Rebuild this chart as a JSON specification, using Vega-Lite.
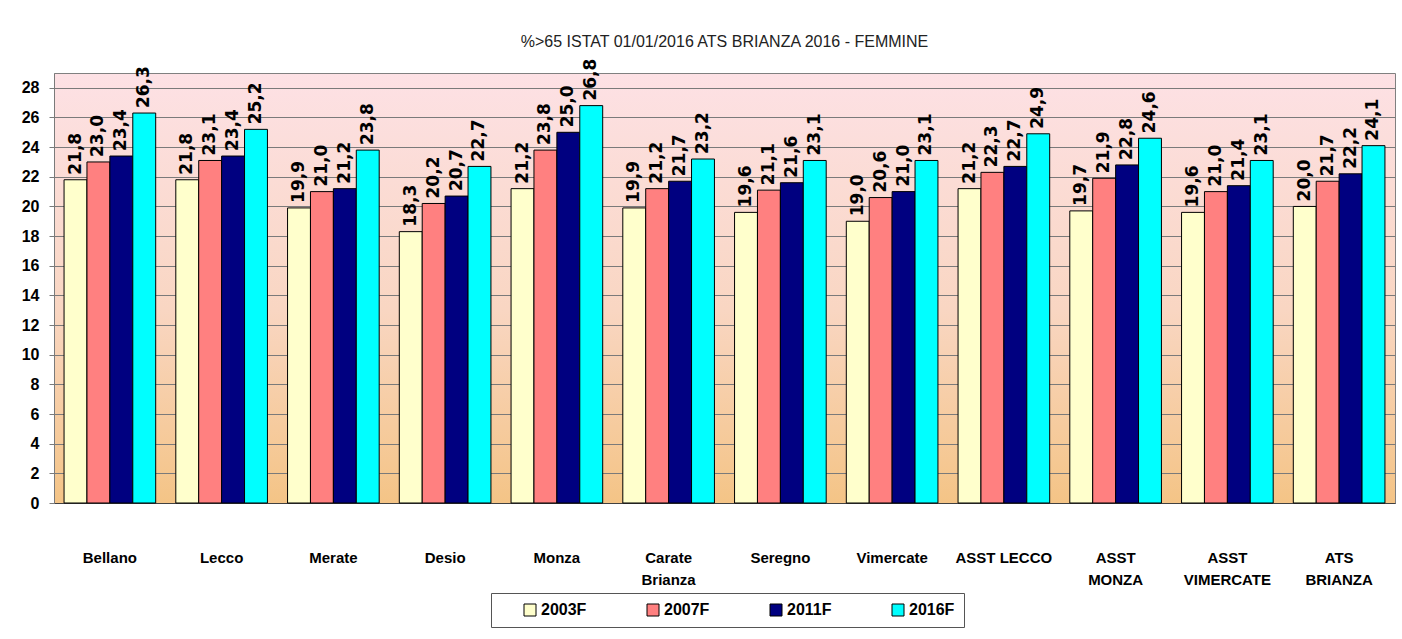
{
  "$schema": "https://vega.github.io/schema/vega-lite/v6.json",
  "width": 1341,
  "height": 430,
  "autosize": {"type": "none"},
  "padding": {"left": 54, "top": 73, "right": 7, "bottom": 136},
  "background": "white",
  "config": {
    "locale": {"number": {"decimal": ",", "thousands": ".", "grouping": [3], "currency": ["", " €"]}},
    "font": "Liberation Sans",
    "view": {
      "stroke": "#808080",
      "strokeWidth": 1,
      "fill": {
        "gradient": "linear",
        "x1": 0, "y1": 1, "x2": 0, "y2": 0,
        "stops": [
          {"offset": 0, "color": "#f4c486"},
          {"offset": 0.45, "color": "#f9d6c2"},
          {"offset": 1, "color": "#fde1e5"}
        ]
      }
    }
  },
  "title": {
    "text": "%>65 ISTAT 01/01/2016 ATS BRIANZA 2016 - FEMMINE",
    "font": "Liberation Sans",
    "fontSize": 16,
    "fontWeight": "normal",
    "color": "#222222",
    "anchor": "middle",
    "frame": "group",
    "offset": 9
  },
  "data": {
    "values": [
      {"zona": "Bellano", "anno": "2003F", "val": 21.8},
      {"zona": "Bellano", "anno": "2007F", "val": 23.0},
      {"zona": "Bellano", "anno": "2011F", "val": 23.4},
      {"zona": "Bellano", "anno": "2016F", "val": 26.3},
      {"zona": "Lecco", "anno": "2003F", "val": 21.8},
      {"zona": "Lecco", "anno": "2007F", "val": 23.1},
      {"zona": "Lecco", "anno": "2011F", "val": 23.4},
      {"zona": "Lecco", "anno": "2016F", "val": 25.2},
      {"zona": "Merate", "anno": "2003F", "val": 19.9},
      {"zona": "Merate", "anno": "2007F", "val": 21.0},
      {"zona": "Merate", "anno": "2011F", "val": 21.2},
      {"zona": "Merate", "anno": "2016F", "val": 23.8},
      {"zona": "Desio", "anno": "2003F", "val": 18.3},
      {"zona": "Desio", "anno": "2007F", "val": 20.2},
      {"zona": "Desio", "anno": "2011F", "val": 20.7},
      {"zona": "Desio", "anno": "2016F", "val": 22.7},
      {"zona": "Monza", "anno": "2003F", "val": 21.2},
      {"zona": "Monza", "anno": "2007F", "val": 23.8},
      {"zona": "Monza", "anno": "2011F", "val": 25.0},
      {"zona": "Monza", "anno": "2016F", "val": 26.8},
      {"zona": "Carate Brianza", "anno": "2003F", "val": 19.9},
      {"zona": "Carate Brianza", "anno": "2007F", "val": 21.2},
      {"zona": "Carate Brianza", "anno": "2011F", "val": 21.7},
      {"zona": "Carate Brianza", "anno": "2016F", "val": 23.2},
      {"zona": "Seregno", "anno": "2003F", "val": 19.6},
      {"zona": "Seregno", "anno": "2007F", "val": 21.1},
      {"zona": "Seregno", "anno": "2011F", "val": 21.6},
      {"zona": "Seregno", "anno": "2016F", "val": 23.1},
      {"zona": "Vimercate", "anno": "2003F", "val": 19.0},
      {"zona": "Vimercate", "anno": "2007F", "val": 20.6},
      {"zona": "Vimercate", "anno": "2011F", "val": 21.0},
      {"zona": "Vimercate", "anno": "2016F", "val": 23.1},
      {"zona": "ASST LECCO", "anno": "2003F", "val": 21.2},
      {"zona": "ASST LECCO", "anno": "2007F", "val": 22.3},
      {"zona": "ASST LECCO", "anno": "2011F", "val": 22.7},
      {"zona": "ASST LECCO", "anno": "2016F", "val": 24.9},
      {"zona": "ASST MONZA", "anno": "2003F", "val": 19.7},
      {"zona": "ASST MONZA", "anno": "2007F", "val": 21.9},
      {"zona": "ASST MONZA", "anno": "2011F", "val": 22.8},
      {"zona": "ASST MONZA", "anno": "2016F", "val": 24.6},
      {"zona": "ASST VIMERCATE", "anno": "2003F", "val": 19.6},
      {"zona": "ASST VIMERCATE", "anno": "2007F", "val": 21.0},
      {"zona": "ASST VIMERCATE", "anno": "2011F", "val": 21.4},
      {"zona": "ASST VIMERCATE", "anno": "2016F", "val": 23.1},
      {"zona": "ATS BRIANZA", "anno": "2003F", "val": 20.0},
      {"zona": "ATS BRIANZA", "anno": "2007F", "val": 21.7},
      {"zona": "ATS BRIANZA", "anno": "2011F", "val": 22.2},
      {"zona": "ATS BRIANZA", "anno": "2016F", "val": 24.1}
    ]
  },
  "encoding": {
    "x": {
      "field": "zona",
      "type": "nominal",
      "sort": null,
      "scale": {"paddingInner": 0.18, "paddingOuter": 0.09},
      "axis": {
        "title": null,
        "labelAngle": 0,
        "ticks": false,
        "labelPadding": 47,
        "labelBaseline": "top",
        "labelFont": "Liberation Sans",
        "labelFontSize": 15,
        "labelFontWeight": "bold",
        "labelColor": "black",
        "labelLineHeight": 22,
        "domainColor": "#404040",
        "labelExpr": "datum.label == 'ASST LECCO' ? datum.label : split(datum.label, ' ')"
      }
    },
    "xOffset": {
      "field": "anno",
      "type": "nominal",
      "sort": null,
      "scale": {"paddingInner": 0, "paddingOuter": 0}
    },
    "y": {
      "field": "val",
      "type": "quantitative",
      "scale": {"domain": [0, 29], "nice": false},
      "axis": {
        "title": null,
        "values": [0, 2, 4, 6, 8, 10, 12, 14, 16, 18, 20, 22, 24, 26, 28],
        "format": "d",
        "grid": true,
        "gridColor": "#7a7a7a",
        "gridWidth": 1,
        "tickColor": "#7a7a7a",
        "tickSize": 5,
        "labelPadding": 10,
        "labelFont": "Liberation Sans",
        "labelFontSize": 16,
        "labelFontWeight": "bold",
        "labelColor": "black",
        "domainColor": "#7a7a7a"
      }
    }
  },
  "layer": [
    {
      "mark": {"type": "bar", "stroke": "black", "strokeWidth": 1},
      "encoding": {
        "color": {
          "field": "anno",
          "type": "nominal",
          "scale": {
            "domain": ["2003F", "2007F", "2011F", "2016F"],
            "range": ["#ffffcc", "#ff8080", "#000080", "#00ffff"]
          },
          "legend": {
            "title": "\u00a0",
            "titleOrient": "left",
            "titlePadding": 22,
            "orient": "none",
            "legendX": 437,
            "legendY": 520,
            "direction": "horizontal",
            "columns": 4,
            "padding": 9,
            "columnPadding": 58,
            "symbolType": "square",
            "symbolSize": 144,
            "symbolStrokeColor": "black",
            "symbolStrokeWidth": 1,
            "labelOffset": 3,
            "labelFont": "Liberation Sans",
            "labelFontSize": 16,
            "labelFontWeight": "bold",
            "labelColor": "black",
            "strokeColor": "#555555",
            "fillColor": "white"
          }
        }
      }
    },
    {
      "mark": {
        "type": "text",
        "angle": 270,
        "align": "left",
        "baseline": "middle",
        "dx": 5,
        "font": "DejaVu Sans",
        "fontSize": 17,
        "fontWeight": "bold",
        "color": "black"
      },
      "encoding": {
        "text": {"field": "val", "type": "quantitative", "format": ".1f"}
      }
    }
  ]
}
